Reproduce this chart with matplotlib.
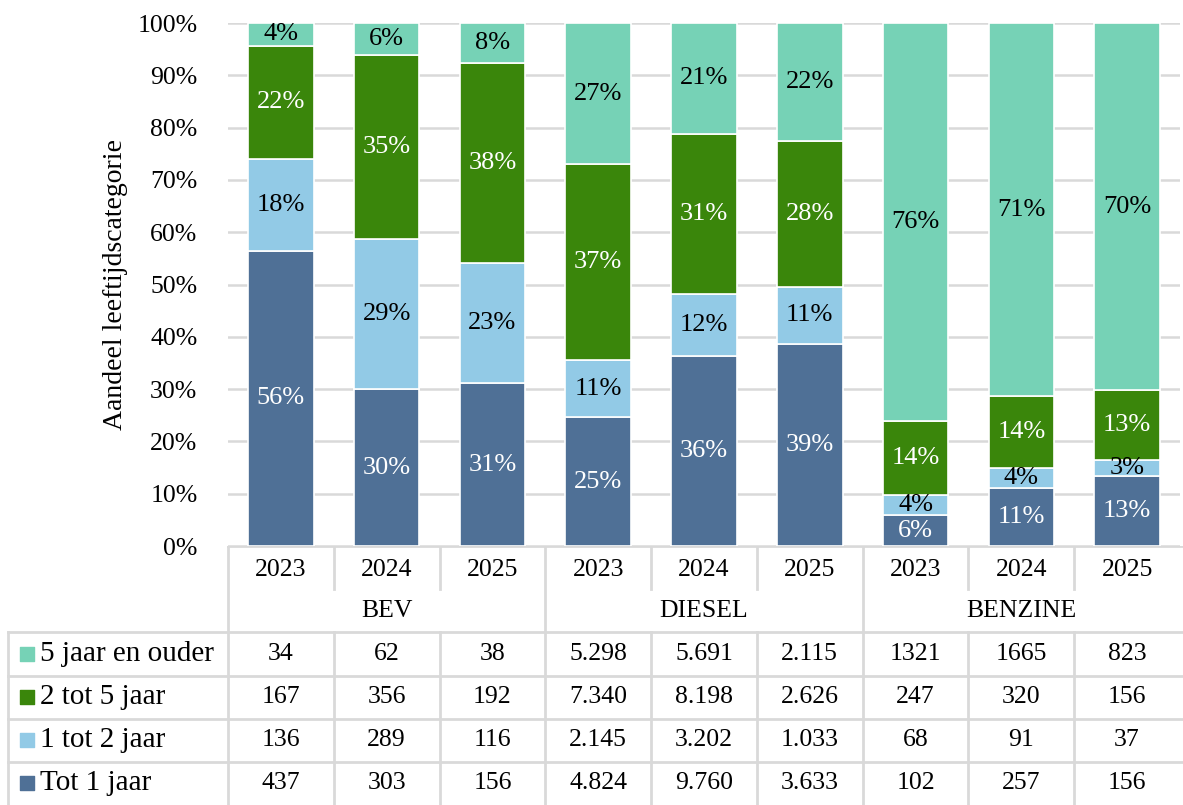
import matplotlib.pyplot as plt
import numpy as np

plt.rcParams['font.family'] = ['Liberation Serif', 'DejaVu Serif']

# Data as shown in the table (Dutch thousands separator)
groups = ['BEV', 'DIESEL', 'BENZINE']
years = ['2023', '2024', '2025']
series_names = ['5 jaar en ouder', '2 tot 5 jaar', '1 tot 2 jaar', 'Tot 1 jaar']
vijf_plus = ['34', '62', '38', '5.298', '5.691', '2.115', '1321', '1665', '823']
twee_vijf = ['167', '356', '192', '7.340', '8.198', '2.626', '247', '320', '156']
een_twee = ['136', '289', '116', '2.145', '3.202', '1.033', '68', '91', '37']
tot_een = ['437', '303', '156', '4.824', '9.760', '3.633', '102', '257', '156']

table_rows = [vijf_plus, twee_vijf, een_twee, tot_een]
colors = ['#76D2B6', '#3A860B', '#92CAE6', '#4F7096']
label_colors = ['black', 'white', 'black', 'white']
grid_col = '#D9D9D9'


def to_num(lst):
    return np.array([float(s.replace('.', '')) for s in lst])


counts = [to_num(r) for r in table_rows]
totals = sum(counts)
shares = [c / totals for c in counts]

W, H = 1183, 805
fig = plt.figure(figsize=(W / 100, H / 100), dpi=100)

ax_left, ax_right, ax_top, ax_bot = 228, 1180, 23, 546
ax = fig.add_axes([ax_left / W, (H - ax_bot) / H, (ax_right - ax_left) / W, (ax_bot - ax_top) / H])

n = len(tot_een)
x = np.arange(n)
bottom = np.zeros(n)
# stack from bottom: Tot 1 jaar, 1 tot 2, 2 tot 5, 5+
for i in [3, 2, 1, 0]:
    ax.bar(x, shares[i], 0.62, bottom=bottom, color=colors[i], edgecolor='white', linewidth=1.2, zorder=3)
    for j in range(n):
        ax.text(x[j], bottom[j] + shares[i][j] / 2, f'{shares[i][j] * 100:.0f}%',
                ha='center', va='center', fontsize=19, color=label_colors[i], zorder=4)
    bottom += shares[i]

ax.set_xlim(-0.5, n - 0.5)
ax.set_ylim(0, 1)
ax.set_yticks(np.arange(0, 1.01, 0.1))
ax.set_yticklabels([f'{v}%' for v in range(0, 101, 10)], fontsize=18.5)
ax.tick_params(axis='y', length=0, pad=22)
ax.set_xticks([])
ax.grid(axis='y', color=grid_col, linewidth=1.8, zorder=0)
for s in ['top', 'right', 'left', 'bottom']:
    ax.spines[s].set_visible(False)
ax.set_ylabel('Aandeel leeftijdscategorie', fontsize=20, labelpad=7)

# table below the plot, x aligned with the bars
ppu = (ax_right - ax_left) / n
tab_h = H - ax_bot
tax = fig.add_axes([0, 0, 1, tab_h / H])
x0 = -0.5 - ax_left / ppu
tax.set_xlim(x0, x0 + W / ppu)
tax.set_ylim(6, 0)
tax.axis('off')


def px(p):
    return x0 + p / ppu


lw = 2
x_tab_left = px(8)
x_end = x0 + W / ppu
tax.plot([-0.5, x_end], [0, 0], color=grid_col, lw=lw)
tax.plot([-0.5, -0.5], [0, 6], color=grid_col, lw=lw)
tax.plot([x_tab_left, x_tab_left], [2, 6], color=grid_col, lw=lw)
for yy in [2, 3, 4, 5]:
    tax.plot([x_tab_left, x_end], [yy, yy], color=grid_col, lw=lw)
for k in range(n - 1):
    xb = k + 0.5
    if (k + 1) % 3 == 0:
        tax.plot([xb, xb], [0, 6], color=grid_col, lw=lw)
    else:
        tax.plot([xb, xb], [0, 1], color=grid_col, lw=lw)
        tax.plot([xb, xb], [2, 6], color=grid_col, lw=lw)

for j in range(n):
    tax.text(j, 0.55, years[j % 3], ha='center', va='center', fontsize=18.5)
for g, name in enumerate(groups):
    tax.text(g * 3 + 1, 1.5, name, ha='center', va='center', fontsize=18.5)

for r, (name, vals) in enumerate(zip(series_names, table_rows)):
    yy = 2.5 + r
    tax.scatter([px(27)], [yy], marker='s', s=100, color=colors[r], clip_on=False)
    tax.text(px(40), yy, name, ha='left', va='center', fontsize=21)
    for j in range(n):
        tax.text(j, yy, vals[j], ha='center', va='center', fontsize=18.5)

fig.savefig('out.png', dpi=100)
